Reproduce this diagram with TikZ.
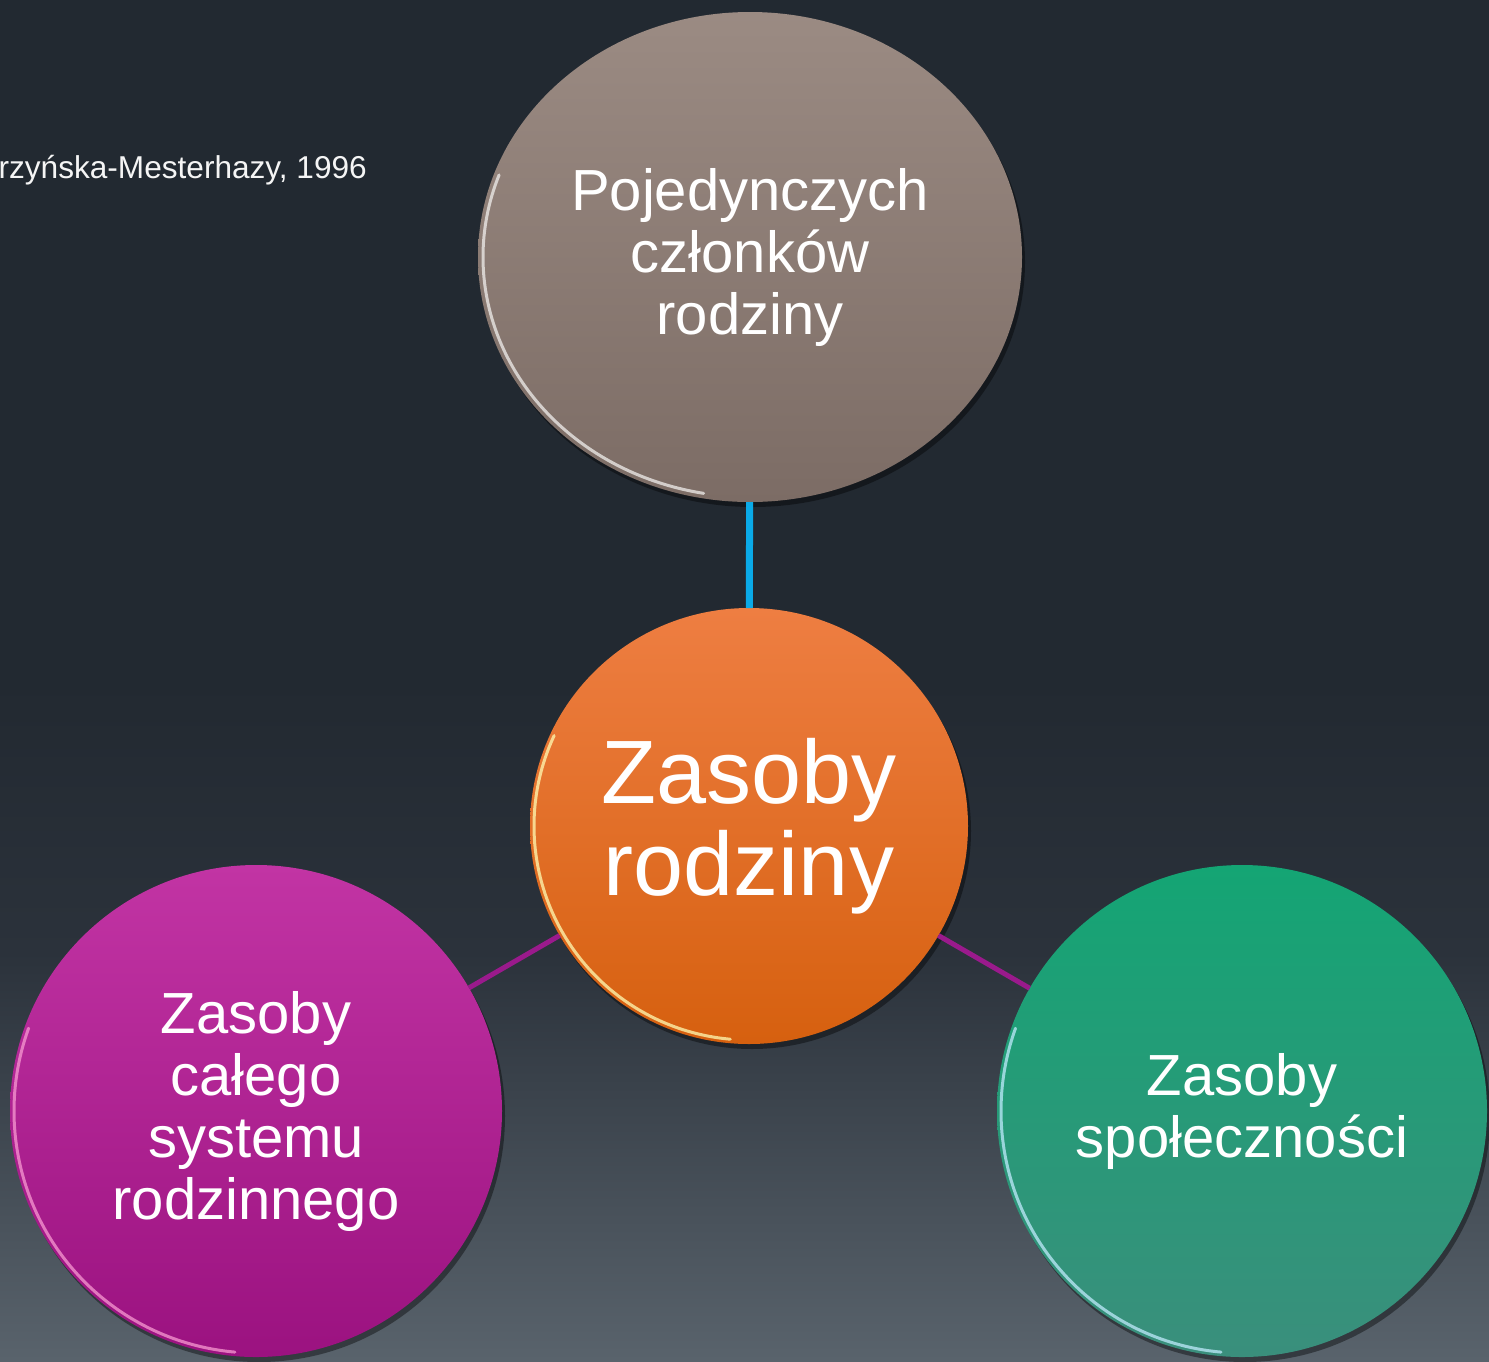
\documentclass[tikz,border=0pt]{standalone}
\usepackage{fontspec}
\setmainfont{Liberation Sans}
\usetikzlibrary{positioning, shapes.geometric, shadows}
\definecolor{bgtop}{HTML}{222931}
\definecolor{bgmid}{HTML}{2B323B}
\definecolor{bgbot}{HTML}{59636C}
\definecolor{greyA}{HTML}{9B8B83}
\definecolor{greyB}{HTML}{7C6C65}
\definecolor{orangeA}{HTML}{EE7E42}
\definecolor{orangeM}{HTML}{E8690C}
\definecolor{orangeB}{HTML}{D6600F}
\definecolor{plumA}{HTML}{C234A4}
\definecolor{plumB}{HTML}{9B1280}
\definecolor{tealA}{HTML}{14A574}
\definecolor{tealB}{HTML}{3A8F7C}
\definecolor{linkblue}{HTML}{0AAAE8}
\definecolor{linkplum}{HTML}{9A1A8C}
% path is mapped onto 25bp..75bp of the shading
\pgfdeclareverticalshading{bgshade}{100bp}{color(0bp)=(bgbot); color(25bp)=(bgbot); color(40bp)=(bgmid); color(50bp)=(bgtop); color(75bp)=(bgtop); color(100bp)=(bgtop)}

\begin{document}
\begin{tikzpicture}[x=1pt, y=-1pt,
  bubble/.style={ellipse, inner sep=0pt, outer sep=0pt, align=center, text=white,
                 drop shadow={shadow xshift=3pt, shadow yshift=-5pt, opacity=.4, fill=black}},
  small/.style={font=\fontsize{58}{62}\selectfont},
  big/.style={font=\fontsize{90}{92}\selectfont},
  link/.style={line width=5pt},
  rim/.style={line width=3pt, opacity=.75, line cap=round}
]
\useasboundingbox (0,0) rectangle (1489,1361);
\shade[shading=bgshade] (0,0) rectangle (1489,1361);

% source line, cut at the left edge
\node[anchor=east, inner sep=0pt, text=white!92!gray, font=\fontsize{31.6}{36}\selectfont] (src) at (367,170)
  {rzyńska-Mesterhazy, 1996};

% bubbles
\node[bubble, small, top color=greyA, bottom color=greyB,
      minimum width=544pt, minimum height=490pt] (indiv) at (750,257)
      {Pojedynczych\\członków\\rodziny};
\node[bubble, big, top color=orangeA, middle color=orangeM, bottom color=orangeB,
      minimum width=438pt, minimum height=436pt] (family) at (749,826)
      {Zasoby\\rodziny};
\node[bubble, small, top color=plumA, bottom color=plumB,
      minimum width=492pt, minimum height=492pt] (system) at (256,1111)
      {Zasoby\\całego\\systemu\\rodzinnego};
\node[bubble, small, top color=tealA, bottom color=tealB,
      minimum width=490pt, minimum height=492pt] (community) at (1242,1111)
      {Zasoby\\społeczności};

% bevel highlights
\draw[rim, white!85!greyA] (indiv.center) ++(100:267 and 240) arc[start angle=100, end angle=200, x radius=267, y radius=240];
\draw[rim, yellow!30!white] (family.center) ++(95:215 and 214) arc[start angle=95, end angle=205, x radius=215, y radius=214];
\draw[rim, magenta!40!white] (system.center) ++(95:242 and 242) arc[start angle=95, end angle=200, x radius=242, y radius=242];
\draw[rim, cyan!25!white] (community.center) ++(95:241 and 242) arc[start angle=95, end angle=200, x radius=241, y radius=242];

% connectors
\draw[link, linkblue, line width=7pt] (indiv) -- (family);
\draw[link, linkplum] (system) -- (family);
\draw[link, linkplum] (family) -- (community);
\end{tikzpicture}
\end{document}
